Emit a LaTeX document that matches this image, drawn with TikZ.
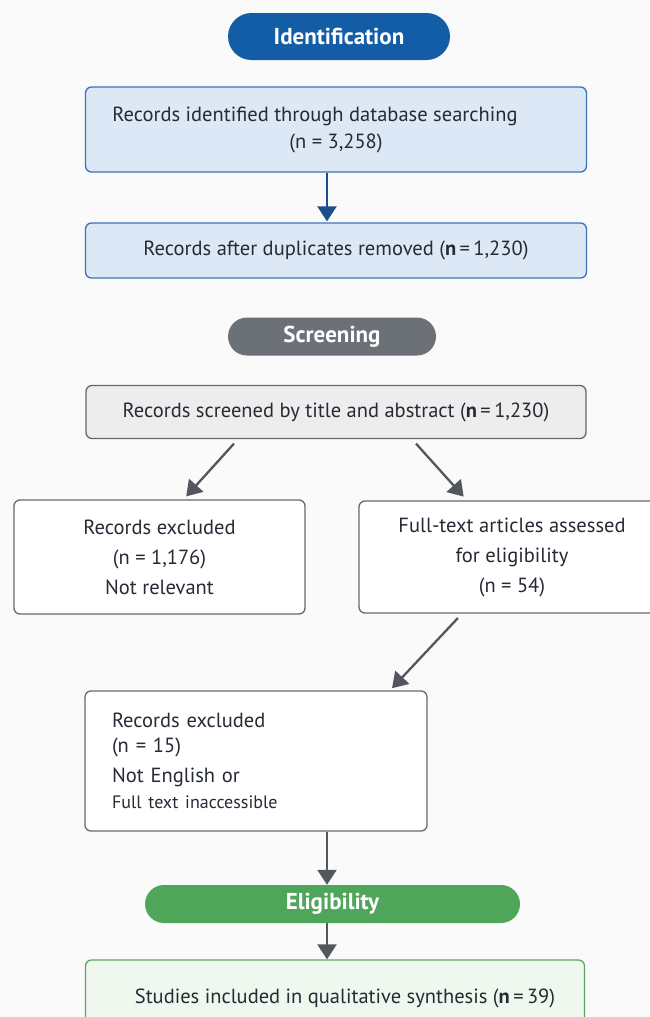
\documentclass[tikz,border=0pt]{standalone}
\usepackage{fontspec}
\setmainfont{PT Sans}
\usepackage{tikz}
\usetikzlibrary{arrows.meta,positioning,calc}
\definecolor{phaseIdent}{HTML}{135DA6}
\definecolor{phaseScreen}{HTML}{6C7077}
\definecolor{phaseElig}{HTML}{4FA65A}
\definecolor{fillIdent}{HTML}{DCE8F5}
\definecolor{drawIdent}{HTML}{3F72B3}
\definecolor{fillScreen}{HTML}{EDEDED}
\definecolor{fillElig}{HTML}{EFF7EE}
\definecolor{drawElig}{HTML}{5FA463}
\definecolor{boxGrey}{HTML}{66696E}
\definecolor{arrowGrey}{HTML}{53575D}
\definecolor{arrowBlue}{HTML}{1B4E8C}
\definecolor{textDark}{HTML}{252A35}

\begin{document}
\begin{tikzpicture}[x=1pt,y=-1pt,
  phase/.style={rounded corners=18.5pt,inner sep=0pt,text=white,font=\fontsize{23}{26}\selectfont\bfseries},
  recbox/.style={draw=boxGrey,fill=white,line width=1.3pt,rounded corners=6pt,inner sep=0pt,
    text=textDark,align=center,font=\fontsize{20.5}{30}\selectfont},
  arr/.style={draw=arrowGrey,line width=2.3pt,-{Triangle[width=19pt,length=15pt]}}
]
  \clip (0,0) rectangle (650,1017);
  \fill[white!98!black] (0,0) rectangle (650,1017);

  % --- Identification (blue) ---
  \node[phase,fill=phaseIdent,minimum width=222pt,minimum height=47pt,rounded corners=23.5pt] (ident) at (339,36.5) {Identification};
  \node[recbox,fill=fillIdent,draw=drawIdent,minimum width=501pt,minimum height=85pt] (recId) at (336,129.5)
    {\raisebox{-3pt}{\hspace*{-42pt}Records identified through database searching}\\(n = 3,258)};
  \node[recbox,fill=fillIdent,draw=drawIdent,minimum width=501pt,minimum height=55pt] (recDup) at (336,250.5)
    {Records after duplicates removed (\textbf{n}\,=\,1,230)};
  \draw[arr,draw=arrowBlue,shorten >=1pt] ([xshift=-9pt]recId.south) -- ([xshift=-9pt]recDup.north);

  % --- Screening (grey) ---
  \node[phase,fill=phaseScreen,minimum width=208pt,minimum height=38pt,rounded corners=19pt] (screen) at (332,336.5) {Screening};
  \node[recbox,fill=fillScreen,minimum width=500pt,minimum height=53pt] (recScr) at (336,412)
    {Records screened by title and abstract (\textbf{n}\,=\,1,230)};
  \node[recbox,minimum width=291pt,minimum height=114pt] (recExcl) at (159.5,557)
    {Records excluded\\(n = 1,176)\\Not relevant};
  \node[recbox,minimum width=306pt,minimum height=112pt] (fullText) at (512,557)
    {Full-text articles assessed\\for eligibility\\(n = 54)};
  \draw[arr,shorten <=6pt,shorten >=4pt] ([xshift=-98pt]recScr.south) -- ([xshift=24pt]recExcl.north);
  \draw[arr,shorten <=6pt,shorten >=5pt] ([xshift=76pt]recScr.south) -- ([xshift=-45pt]fullText.north);

  % --- Second exclusion, left aligned text ---
  \node[recbox,minimum width=342pt,minimum height=140pt,align=left,text width=288pt] (recExcl2) at (256,761)
    {Records excluded\\[-5pt](n = 15)\\Not English or\\[-4pt]{\fontsize{18}{20}\selectfont Full text inaccessible}};
  \draw[arr,shorten <=6pt,shorten >=3pt] ([xshift=-50pt]fullText.south) -- ([xshift=134pt]recExcl2.north);

  % --- Eligibility (green) ---
  \node[phase,fill=phaseElig,minimum width=375pt,minimum height=38pt,rounded corners=19pt] (elig) at (332.5,904) {Eligibility};
  \node[recbox,fill=fillElig,draw=drawElig,minimum width=499pt,minimum height=80pt] (included) at (335,1000)
    {\raisebox{7pt}{\hspace*{20pt}Studies included in qualitative synthesis (\textbf{n}\,=\,39)}};
  \draw[arr] ([xshift=71pt]recExcl2.south) -- ([xshift=-5.5pt]elig.north);
  \draw[arr] ([xshift=-5.5pt]elig.south) -- ([xshift=-8pt]included.north);
\end{tikzpicture}
\end{document}
